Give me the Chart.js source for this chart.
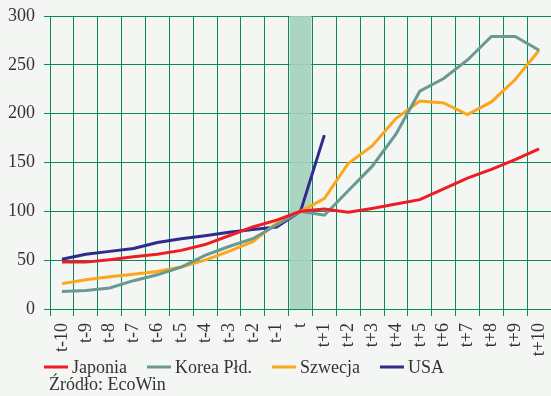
<!DOCTYPE html>
<html>
<head>
<meta charset="utf-8">
<script src="https://cdn.jsdelivr.net/npm/chart.js@4/dist/chart.umd.min.js"></script>
<style>
  html, body { margin: 0; padding: 0; background: #f4f6f4; }
  #wrap { position: relative; width: 551px; height: 396px; }
</style>
</head>
<body>
<div id="wrap"><canvas id="myChart"></canvas></div>
<script>
// okresy wokół punktu t
const labels = ['t-10', 't-9', 't-8', 't-7', 't-6', 't-5', 't-4', 't-3', 't-2', 't-1', 't',
  't+1', 't+2', 't+3', 't+4', 't+5', 't+6', 't+7', 't+8', 't+9', 't+10'];

const japonia = [48, 48, 50.5, 53.5, 56, 60, 66, 75, 84, 91, 100, 102.5, 99, 103, 107.5, 112, 123, 134, 143, 153, 164];
const korea = [18, 19, 21.5, 29, 35, 43, 55, 64, 72, 86, 100, 96, 121, 146, 179, 223, 236, 255, 279, 279, 265];
const szwecja = [26, 30, 33, 35.5, 38.5, 43, 50, 59, 69, 88, 100, 113, 149, 167, 195, 213, 211, 199, 212, 235, 265];
const usa = [51, 56, 59, 62, 68, 72, 75, 78.5, 81.5, 84, 100, 178];

const yTicks = [0, 50, 100, 150, 200, 250, 300];
const source = 'Źródło: EcoWin';

const gridColor = '#0a8a5c';
const textColor = '#333333';
const fontFamily = "'Liberation Serif', 'Times New Roman', serif";

// zacieniony okres t
const bandPlugin = {
  id: 'band',
  beforeDatasetsDraw(chart) {
    const {ctx, chartArea, scales: {x}} = chart;
    const i = labels.indexOf('t');
    const half = (x.getPixelForValue(1) - x.getPixelForValue(0)) / 2;
    const cx = x.getPixelForValue(i);
    ctx.save();
    ctx.fillStyle = 'rgba(164, 208, 188, 0.9)';
    ctx.fillRect(cx - half + 1, chartArea.top, 2 * half - 2, chartArea.bottom - chartArea.top);
    ctx.restore();
  }
};

// legenda i źródło pod osią
const legendPlugin = {
  id: 'customLegend',
  afterDraw(chart) {
    const ctx = chart.ctx;
    ctx.save();
    ctx.font = '18px ' + fontFamily;
    ctx.textBaseline = 'middle';
    ctx.fillStyle = textColor;
    let x = 44;
    const y = 367;
    chart.data.datasets.forEach(ds => {
      ctx.strokeStyle = ds.borderColor;
      ctx.lineWidth = 3;
      ctx.beginPath();
      ctx.moveTo(x, y);
      ctx.lineTo(x + 24, y);
      ctx.stroke();
      ctx.fillText(ds.label, x + 28, y + 1);
      x += 28 + ctx.measureText(ds.label).width + 20;
    });
    ctx.fillText(source, 49, 385);
    ctx.restore();
  }
};

const ctx = document.getElementById('myChart').getContext('2d');

new Chart(ctx, {
  type: 'line',
  data: {
    labels: labels,
    datasets: [
      {label: 'Japonia', data: japonia, borderColor: '#ee1c25'},
      {label: 'Korea Płd.', data: korea, borderColor: '#6a9893'},
      {label: 'Szwecja', data: szwecja, borderColor: '#fca61b'},
      {label: 'USA', data: usa, borderColor: '#2e2a8e'}
    ].map(ds => Object.assign(ds, {borderWidth: 3, pointRadius: 0, tension: 0, fill: false}))
  },
  options: {
    responsive: true,
    maintainAspectRatio: false,
    animation: false,
    layout: {padding: {top: 16, bottom: 39, left: 0, right: 0}},
    plugins: {legend: {display: false}, tooltip: {enabled: false}},
    scales: {
      x: {
        offset: true,
        afterFit(scale) {
          scale.height = 48;
          scale.paddingLeft = 0;
          scale.paddingRight = 0;
        },
        grid: {color: gridColor, offset: true, tickLength: 7},
        border: {color: gridColor},
        ticks: {
          color: textColor,
          font: {family: fontFamily, size: 18},
          minRotation: 90,
          maxRotation: 90,
          padding: 7,
          autoSkip: false
        }
      },
      y: {
        min: 0,
        max: 300,
        afterFit(scale) {
          scale.width = 50;
          scale.paddingTop = 0;
          scale.paddingBottom = 0;
        },
        afterBuildTicks(scale) { scale.ticks = yTicks.map(v => ({value: v})); },
        grid: {color: gridColor, tickLength: 6},
        border: {color: gridColor},
        ticks: {
          color: textColor,
          font: {family: fontFamily, size: 18},
          padding: 9
        }
      }
    }
  },
  plugins: [bandPlugin, legendPlugin]
});
</script>
</body>
</html>
